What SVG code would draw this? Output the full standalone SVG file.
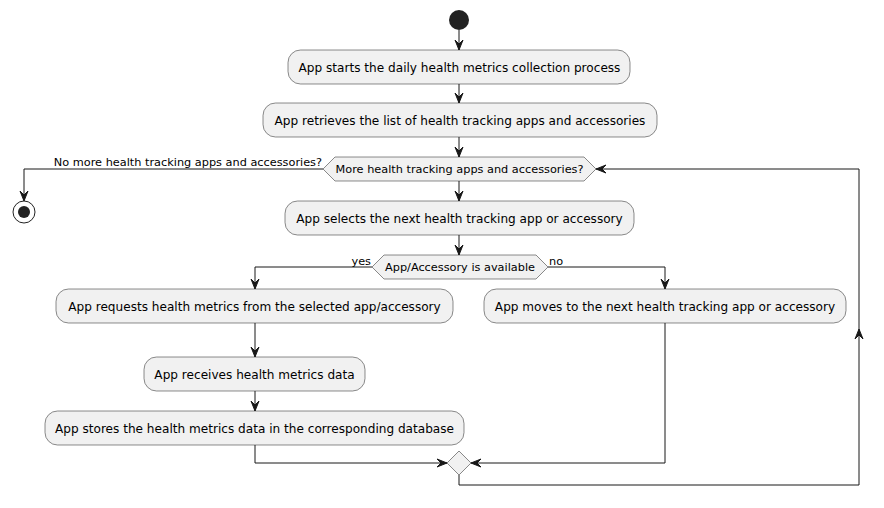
<svg xmlns="http://www.w3.org/2000/svg" width="884" height="508" viewBox="0 0 884 508">
<style>
.box{fill:#F1F1F1;stroke:#181818;stroke-width:0.5}
.t{font-family:"DejaVu Sans",sans-serif;font-size:12.1px;fill:#000;text-anchor:middle}
.s{font-family:"DejaVu Sans",sans-serif;font-size:11.3px;fill:#000}
.ln{fill:none;stroke:#181818;stroke-width:1}
.ah{fill:#181818;stroke:#181818;stroke-width:1}
</style>
<rect width="884" height="508" fill="#FFFFFF"/>
<g id="start"><circle cx="459" cy="20" r="10" fill="#222222"/></g>
<g id="stop"><circle cx="24" cy="212" r="11" fill="none" stroke="#222222" stroke-width="1"/><circle cx="24" cy="212" r="6" fill="#222222"/></g>
<g id="n1"><rect class="box" x="288" y="50" width="342" height="34" rx="12.5"/><text class="t" x="459.5" y="71.5">App starts the daily health metrics collection process</text></g>
<g id="n2"><rect class="box" x="263" y="103" width="394" height="34" rx="12.5"/><text class="t" x="460" y="124.5">App retrieves the list of health tracking apps and accessories</text></g>
<g id="d1"><polygon class="box" points="323,169 335,157 584,157 596,169 584,181 335,181"/><text class="s" x="459.5" y="173" text-anchor="middle">More health tracking apps and accessories?</text></g>
<g id="n3"><rect class="box" x="285" y="201" width="349" height="34" rx="12.5"/><text class="t" x="459.5" y="222.5">App selects the next health tracking app or accessory</text></g>
<g id="d2"><polygon class="box" points="372,267 384,255 536,255 548,267 536,279 384,279"/><text class="s" x="460" y="271" text-anchor="middle">App/Accessory is available</text></g>
<g id="n4"><rect class="box" x="56" y="289" width="397" height="34" rx="12.5"/><text class="t" x="254.5" y="310.5">App requests health metrics from the selected app/accessory</text></g>
<g id="n5"><rect class="box" x="144" y="357" width="221" height="34" rx="12.5"/><text class="t" x="254.5" y="378.5">App receives health metrics data</text></g>
<g id="n6"><rect class="box" x="45" y="411" width="419" height="34" rx="12.5"/><text class="t" x="254.5" y="432.5">App stores the health metrics data in the corresponding database</text></g>
<g id="n7"><rect class="box" x="484" y="289" width="362" height="34" rx="12.5"/><text class="t" x="665" y="310.5">App moves to the next health tracking app or accessory</text></g>
<g id="merge"><polygon class="box" points="459,451 471,463 459,475 447,463"/></g>
<g id="connectors">
<path class="ln" d="M459,30 V50"/><polygon class="ah" points="455,40 459,50 463,40 459,44"/>
<path class="ln" d="M459,84 V103"/><polygon class="ah" points="455,93 459,103 463,93 459,97"/>
<path class="ln" d="M459,137 V157"/><polygon class="ah" points="455,147 459,157 463,147 459,151"/>
<path class="ln" d="M459,181 V201"/><polygon class="ah" points="455,191 459,201 463,191 459,195"/>
<path class="ln" d="M459,235 V255"/><polygon class="ah" points="455,245 459,255 463,245 459,249"/>
<path class="ln" d="M323,169 H24 V201"/><polygon class="ah" points="20,191 24,201 28,191 24,195"/>
<text class="s" x="322" y="166" text-anchor="end">No more health tracking apps and accessories?</text>
<path class="ln" d="M372,267 H255 V289"/><polygon class="ah" points="251,279 255,289 259,279 255,283"/>
<text class="s" x="371" y="265" text-anchor="end">yes</text>
<path class="ln" d="M548,267 H665 V289"/><polygon class="ah" points="661,279 665,289 669,279 665,283"/>
<text class="s" x="549" y="265">no</text>
<path class="ln" d="M255,323 V357"/><polygon class="ah" points="251,347 255,357 259,347 255,351"/>
<path class="ln" d="M255,391 V411"/><polygon class="ah" points="251,401 255,411 259,401 255,405"/>
<path class="ln" d="M255,445 V463 H447"/><polygon class="ah" points="437,459 447,463 437,467 441,463"/>
<path class="ln" d="M665,323 V463 H471"/><polygon class="ah" points="481,459 471,463 481,467 477,463"/>
<path class="ln" d="M459,475 V485 H859 V169 H596"/><polygon class="ah" points="855,339 859,329 863,339 859,335"/><polygon class="ah" points="606,165 596,169 606,173 602,169"/>
</g>
</svg>
